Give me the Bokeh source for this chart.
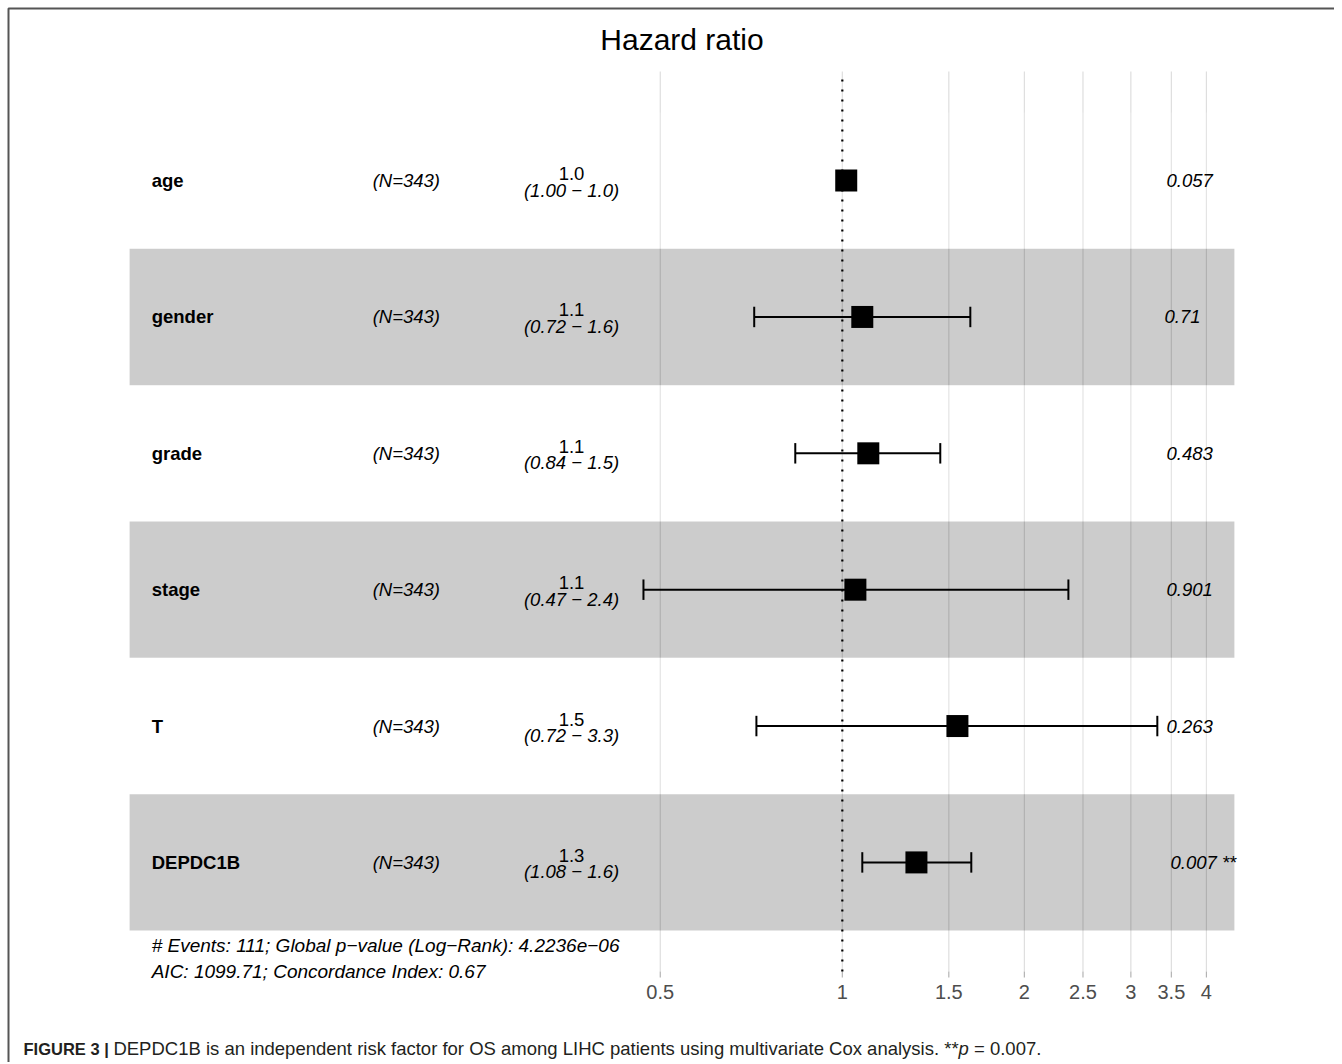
import math
from bokeh.plotting import figure
from bokeh.models import ColumnDataSource, Range1d, Label, BoxAnnotation
from bokeh.core.properties import value
from bokeh.embed import file_html
from bokeh.resources import INLINE

# ---------------- data ----------------
variables = ["age", "gender", "grade", "stage", "T", "DEPDC1B"]
n_labels = ["(N=343)", "(N=343)", "(N=343)", "(N=343)", "(N=343)", "(N=343)"]
hazard_ratio = [1.015, 1.079, 1.104, 1.051, 1.550, 1.326]
ci_low = [1.000, 0.715, 0.836, 0.469, 0.721, 1.079]
ci_high = [1.031, 1.628, 1.452, 2.365, 3.318, 1.634]
hr_labels = ["1.0", "1.1", "1.1", "1.1", "1.5", "1.3"]
ci_labels = ["(1.00 \u2212 1.0)", "(0.72 \u2212 1.6)", "(0.84 \u2212 1.5)",
             "(0.47 \u2212 2.4)", "(0.72 \u2212 3.3)", "(1.08 \u2212 1.6)"]
p_labels = ["0.057", "0.71", "0.483", "0.901", "0.263", "0.007 **"]
reference_hr = 1
tick_values = [0.5, 1, 1.5, 2, 2.5, 3, 3.5, 4]
tick_labels = ["0.5", "1", "1.5", "2", "2.5", "3", "3.5", "4"]
footnote_lines = ["# Events: 111; Global p\u2212value (Log\u2212Rank): 4.2236e\u221206",
                  "AIC: 1099.71; Concordance Index: 0.67"]
title_text = "Hazard ratio"
caption_bold = "FIGURE 3 |"
caption_main = ("DEPDC1B is an independent risk factor for OS among LIHC patients "
                "using multivariate Cox analysis. **")
caption_italic = "p"
caption_end = "= 0.007."

# ---------------- helpers ----------------
FONT = "Liberation Sans"
_REG = {' ': 278, '!': 278, '*': 389, '.': 278, '=': 584, '|': 260, ',': 278, ';': 278, ':': 278,
        'A': 667, 'B': 667, 'C': 722, 'D': 722, 'E': 667, 'F': 611, 'G': 778, 'H': 722, 'I': 278,
        'L': 556, 'O': 778, 'P': 667, 'R': 722, 'S': 667, 'U': 722,
        'a': 556, 'b': 556, 'c': 500, 'd': 556, 'e': 556, 'f': 278, 'g': 556, 'h': 556, 'i': 222,
        'j': 222, 'k': 500, 'l': 222, 'm': 833, 'n': 556, 'o': 556, 'p': 556, 'q': 556, 'r': 333,
        's': 500, 't': 278, 'u': 556, 'v': 500, 'w': 722, 'x': 500, 'y': 500, 'z': 500}
_BOLD = {' ': 278, '|': 280, 'F': 611, 'I': 278, 'G': 778, 'U': 722, 'R': 722, 'E': 667}


def text_width(s, size, bold=False):
    table = _BOLD if bold else _REG
    return sum(table.get(c, 556) for c in s) * size / 1000.0


# ---------------- geometry (canvas pixels) ----------------
W, H = 1334, 1062
PANEL_L, PANEL_R, PANEL_T, PANEL_B = 107, 1256, 71, 971

n = len(variables)
rows = [n - i for i in range(n)]
y_lo_panel, y_hi_panel = 0.2, n + 0.8

lo = math.log(min(ci_low))
hi = math.log(max(ci_high))
d = hi - lo
rp0 = lo - d
rp1 = hi + 0.15 * d
w = rp1 - rp0
kx = (PANEL_R - PANEL_L) / (1.04 * w)
x_start = math.exp(rp0 - 0.02 * w - PANEL_L / kx)
x_end = math.exp(rp1 + 0.02 * w + (W - PANEL_R) / kx)
ky = (PANEL_B - PANEL_T) / (y_hi_panel - y_lo_panel)
y_start = y_lo_panel - (H - PANEL_B) / ky
y_end = y_hi_panel + PANEL_T / ky

x_var = math.exp(rp0 + 0.02 * w)
x_n = math.exp(rp0 + 0.22 * w)
x_ci = math.exp(rp0 + 0.40 * w)
x_p = math.exp(hi)

fs = 18.5
src = ColumnDataSource(dict(
    y=rows, var=variables, nlab=n_labels, hr=hazard_ratio, lo=ci_low, hi=ci_high,
    cap_lo=[r - 0.075 for r in rows], cap_hi=[r + 0.075 for r in rows],
    y_est=[r + 7.0 / ky for r in rows], y_ci=[r - 9.5 / ky for r in rows],
    hrl=hr_labels, cil=ci_labels, pl=p_labels,
    xv=[x_var] * n, xn=[x_n] * n, xc=[x_ci] * n, xp=[x_p] * n,
    poff=[0.2 * text_width(s, fs) for s in p_labels],
))
band_src = ColumnDataSource(dict(
    y=rows, color=["#000000" if r % 2 == 1 else "#ffffff" for r in rows]))
tick_src = ColumnDataSource(dict(
    x=tick_values, lab=tick_labels,
    y0=[y_lo_panel] * len(tick_values), y1=[y_hi_panel] * len(tick_values),
    yt=[y_lo_panel - 6 / ky] * len(tick_values),
    yl=[y_lo_panel - 20 / ky] * len(tick_values)))

p = figure(width=W, height=H, x_axis_type="log", x_axis_location=None, y_axis_location=None,
           x_range=Range1d(x_start, x_end), y_range=Range1d(y_start, y_end),
           output_backend="svg", toolbar_location=None,
           min_border_left=0, min_border_right=0, min_border_top=0, min_border_bottom=0)
p.outline_line_color = None
p.background_fill_color = "white"
p.border_fill_color = "white"
p.xgrid.visible = False
p.ygrid.visible = False

# grid lines and ticks of the hazard-ratio axis
p.segment(x0="x", x1="x", y0="y0", y1="y1", source=tick_src, line_color="#dedede", line_width=1.2)
p.segment(x0="x", x1="x", y0="yt", y1="y0", source=tick_src, line_color="#b3b3b3", line_width=1.2)
p.text(x="x", y="yl", text="lab", source=tick_src, text_font=value(FONT), text_font_size="20px",
       text_align="center", text_baseline="middle", text_color="#4d4d4d")

# alternating bands
p.hbar(y="y", left=math.exp(rp0), right=math.exp(rp1), height=1, source=band_src,
       fill_color="color", fill_alpha=0.2, line_color=None)

# error bars
p.segment(x0="lo", x1="hi", y0="y", y1="y", source=src, line_color="black", line_width=2)
p.segment(x0="lo", x1="lo", y0="cap_lo", y1="cap_hi", source=src, line_color="black", line_width=2)
p.segment(x0="hi", x1="hi", y0="cap_lo", y1="cap_hi", source=src, line_color="black", line_width=2)

# points
p.scatter(x="hr", y="y", source=src, marker="square", size=22, fill_color="black", line_color=None)

# reference line at HR = 1
p.segment(x0=reference_hr, x1=reference_hr, y0=y_lo_panel, y1=y_hi_panel,
          line_color="black", line_dash="2 8", line_width=2.2)

# row texts
p.text(x="xv", y="y", text="var", source=src, text_font=value(FONT), text_font_style="bold",
       text_font_size=f"{fs}px", text_align="left", text_baseline="middle", text_color="black")
p.text(x="xn", y="y", text="nlab", source=src, text_font=value(FONT), text_font_style="italic",
       text_font_size=f"{fs}px", text_align="left", text_baseline="middle", text_color="black")
p.text(x="xc", y="y_est", text="hrl", source=src, text_font=value(FONT),
       text_font_size=f"{fs}px", text_align="center", text_baseline="middle", text_color="black")
p.text(x="xc", y="y_ci", text="cil", source=src, text_font=value(FONT), text_font_style="italic",
       text_font_size=f"{fs}px", text_align="center", text_baseline="middle", text_color="black")
p.text(x="xp", y="y", text="pl", source=src, x_offset="poff", text_font=value(FONT),
       text_font_style="italic", text_font_size=f"{fs}px", text_align="left",
       text_baseline="middle", text_color="black")

# footnote (two lines below the last row)
foot_src = ColumnDataSource(dict(
    x=[x_var, x_var], y=[0.5 - 15 / ky, 0.5 - 41 / ky], t=footnote_lines))
p.text(x="x", y="y", text="t", source=foot_src, text_font=value(FONT), text_font_style="italic",
       text_font_size="19px", text_align="left", text_baseline="middle", text_color="black")

# title
p.add_layout(Label(x=(PANEL_L + PANEL_R) / 2, y=H - 39, x_units="screen", y_units="screen",
                   text=title_text, text_font=FONT, text_font_size="30px", text_align="center",
                   text_baseline="middle", text_color="black"))

# caption
cap_y = H - 1048
bold_fs, cfs = 16.5, 18.5
p.add_layout(Label(x=23, y=cap_y, x_units="screen", y_units="screen", text=caption_bold,
                   text_font=FONT, text_font_style="bold", text_font_size=f"{bold_fs}px",
                   text_align="left", text_baseline="middle", text_color="#231f20"))
cx = 23 + text_width(caption_bold + " ", bold_fs, bold=True)
for txt, style, gap in [(caption_main, "normal", 0), (caption_italic, "italic", 0),
                        (caption_end, "normal", 1)]:
    cx += gap * text_width(" ", cfs)
    p.add_layout(Label(x=cx, y=cap_y, x_units="screen", y_units="screen", text=txt,
                       text_font=FONT, text_font_style=style, text_font_size=f"{cfs}px",
                       text_align="left", text_baseline="middle", text_color="#231f20"))
    cx += text_width(txt, cfs)

# frame border (top / left edges of the figure box)
p.add_layout(BoxAnnotation(left=8, right=W + 200, top=H - 8, bottom=-200,
                           left_units="screen", right_units="screen",
                           top_units="screen", bottom_units="screen",
                           fill_alpha=0, line_color="#555555", line_alpha=1.0, line_width=2))

open("out.html", "w").write(file_html(p, INLINE))
